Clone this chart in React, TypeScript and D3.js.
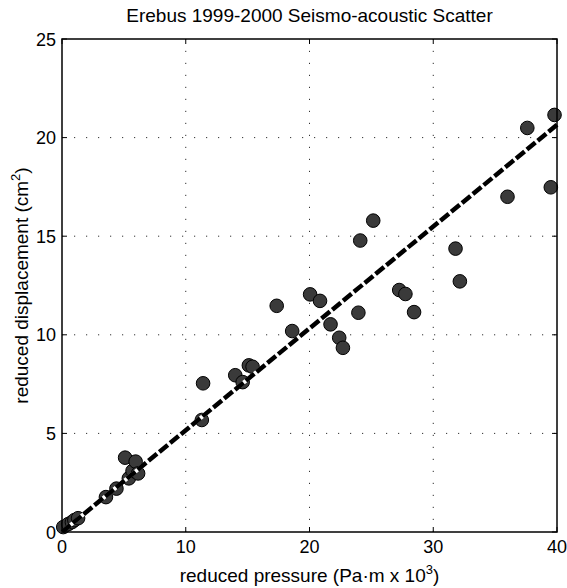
import React from "react";
import * as d3 from "d3";

const pressure = [0.1, 0.5, 0.8, 1.0, 1.3, 3.55, 4.4, 5.1, 5.4, 5.7, 5.95, 6.15, 11.3, 11.4, 14.0, 14.6, 15.1, 15.4, 17.35, 18.6, 20.05, 20.85, 21.7, 22.4, 22.7, 23.95, 24.1, 25.15, 27.25, 27.75, 28.45, 31.8, 32.15, 36.0, 37.6, 39.5, 39.8];
const displacement = [0.25, 0.4, 0.5, 0.6, 0.7, 1.77, 2.2, 3.77, 2.72, 3.1, 3.57, 2.97, 5.68, 7.54, 7.95, 7.6, 8.45, 8.38, 11.47, 10.19, 12.05, 11.72, 10.53, 9.85, 9.34, 11.12, 14.78, 15.79, 12.27, 12.07, 11.15, 14.37, 12.71, 17.0, 20.49, 17.48, 21.15];
const fitX = [0, 40];
const fitY = [0, 20.65];
const xTicks = [0, 10, 20, 30, 40];
const yTicks = [0, 5, 10, 15, 20, 25];

export default function App() {
  const W = 567, H = 588;
  const L = 62, R = 557, T = 39, B = 532;
  const x = d3.scaleLinear().domain([0, 40]).range([L, R]);
  const y = d3.scaleLinear().domain([0, 25]).range([B, T]);
  const line = d3.line<number>().x((_, i) => x(fitX[i])).y((d) => y(d));
  const font = "Liberation Sans, Arial, sans-serif";
  return (
    <svg width={W} height={H} style={{ position: "absolute", left: 0, top: 0 }} fontFamily={font}>
      <rect width={W} height={H} fill="white" />
      {xTicks.slice(1, -1).map((t) => (
        <line key={"gx" + t} x1={x(t)} x2={x(t)} y1={B} y2={T} stroke="#333" strokeWidth={1} strokeDasharray="1.2,10.8" />
      ))}
      {yTicks.slice(1, -1).map((t) => (
        <line key={"gy" + t} x1={L} x2={R} y1={y(t)} y2={y(t)} stroke="#333" strokeWidth={1} strokeDasharray="1.2,10.8" />
      ))}
      {xTicks.map((t) => (
        <g key={"tx" + t}>
          <line x1={x(t)} x2={x(t)} y1={B} y2={B - 5} stroke="black" />
          <line x1={x(t)} x2={x(t)} y1={T} y2={T + 5} stroke="black" />
          <text x={x(t)} y={B + 21} fontSize={18} textAnchor="middle">{t}</text>
        </g>
      ))}
      {yTicks.map((t) => (
        <g key={"ty" + t}>
          <line x1={L} x2={L + 5} y1={y(t)} y2={y(t)} stroke="black" />
          <line x1={R} x2={R - 5} y1={y(t)} y2={y(t)} stroke="black" />
          <text x={L - 6} y={y(t) + 6.5} fontSize={18} textAnchor="end">{t}</text>
        </g>
      ))}
      {pressure.map((p, i) => (
        <circle key={i} cx={x(p)} cy={y(displacement[i])} r={6.8} fill="#3a3a3a" stroke="black" strokeWidth={1} />
      ))}
      <path d={line(fitY) || ""} stroke="white" strokeWidth={4} fill="none" />
      <path d={line(fitY) || ""} stroke="black" strokeWidth={4.5} fill="none" strokeDasharray="11,3" />
      <rect x={L} y={T} width={R - L} height={B - T} fill="none" stroke="black" strokeWidth={1.5} />
      <text x={(L + R) / 2} y={22} fontSize={19} textAnchor="middle">Erebus 1999-2000 Seismo-acoustic Scatter</text>
      <text x={(L + R) / 2} y={582} fontSize={19} textAnchor="middle">
        reduced pressure (Pa·m x 10<tspan dy={-8} fontSize={13}>3</tspan><tspan dy={8}>)</tspan>
      </text>
      <text transform={`translate(28,${(T + B) / 2}) rotate(-90)`} fontSize={19} textAnchor="middle">
        reduced displacement (cm<tspan dy={-8} fontSize={13}>2</tspan><tspan dy={8}>)</tspan>
      </text>
    </svg>
  );
}
